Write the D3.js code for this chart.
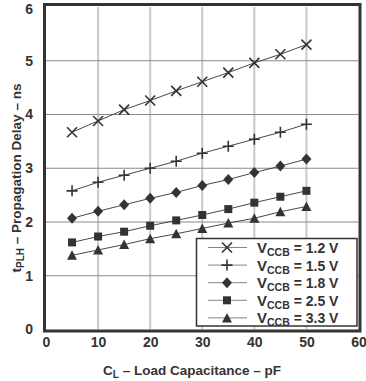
<!DOCTYPE html>
<html>
<head>
<meta charset="utf-8">
<script src="https://cdn.jsdelivr.net/npm/d3@7"></script>
<style>
  html, body { margin: 0; padding: 0; background: #fff; }
  svg { display: block; }
  text { font-family: "Liberation Sans", Arial, sans-serif; fill: #333; }
</style>
</head>
<body>
<svg id="chart" width="366" height="381"></svg>
<script>
const loadCap = [5, 10, 15, 20, 25, 30, 35, 40, 45, 50];
const v12 = [3.67, 3.88, 4.09, 4.26, 4.44, 4.61, 4.78, 4.96, 5.12, 5.30];
const v15 = [2.58, 2.74, 2.87, 3.00, 3.13, 3.28, 3.41, 3.54, 3.67, 3.82];
const v18 = [2.07, 2.20, 2.32, 2.44, 2.55, 2.68, 2.79, 2.92, 3.04, 3.17];
const v25 = [1.62, 1.73, 1.82, 1.93, 2.03, 2.13, 2.24, 2.36, 2.47, 2.58];
const v33 = [1.38, 1.48, 1.58, 1.69, 1.78, 1.88, 1.98, 2.07, 2.19, 2.29];
const seriesLabels = ["1.2 V", "1.5 V", "1.8 V", "2.5 V", "3.3 V"];
const seriesValues = [v12, v15, v18, v25, v33];
const markerTypes = ["x", "plus", "diamond", "square", "triangle"];
const xTicks = [0, 10, 20, 30, 40, 50, 60];
const yTicks = [0, 1, 2, 3, 4, 5, 6];

const svg = d3.select("#chart");
const x = d3.scaleLinear().domain([0, 60]).range([46, 358.5]);
const y = d3.scaleLinear().domain([0, 6]).range([329.5, 7]);
const ink = "#333";

// gridlines
svg.append("g").selectAll("line").data(xTicks.slice(1, -1)).join("line")
  .attr("x1", d => x(d)).attr("x2", d => x(d))
  .attr("y1", y(6)).attr("y2", y(0))
  .attr("stroke", "#c9c9c9").attr("stroke-width", 2);
svg.append("g").selectAll("line").data(yTicks.slice(1, -1)).join("line")
  .attr("x1", x(0)).attr("x2", x(60))
  .attr("y1", d => y(d)).attr("y2", d => y(d))
  .attr("stroke", "#8a8a8a").attr("stroke-width", 1);

// axes (labels only, via d3 axis)
const xAxis = svg.append("g").attr("transform", `translate(0,${y(0)})`)
  .call(d3.axisBottom(x).tickValues(xTicks).tickSize(0).tickPadding(8).tickFormat(d3.format("d")));
const yAxis = svg.append("g").attr("transform", `translate(${x(0)},0)`)
  .call(d3.axisLeft(y).tickValues(yTicks).tickSize(0).tickPadding(13).tickFormat(d3.format("d")));
[xAxis, yAxis].forEach(a => {
  a.select(".domain").remove();
  a.selectAll("text").attr("font-size", 14).attr("font-weight", "bold")
    .attr("font-family", "'Liberation Sans', Arial, sans-serif").attr("fill", ink);
});
yAxis.selectAll(".tick").filter(d => d === 6).select("text").attr("dy", "0.45em");

// frame
svg.append("rect").attr("x", 44.5).attr("y", 4.5).attr("width", 315.5).attr("height", 326.5)
  .attr("fill", "none").attr("stroke", ink).attr("stroke-width", 3);

// marker drawing
function drawMarker(g, type) {
  if (type === "x") {
    g.append("path").attr("d", "M-5,-5L5,5M-5,5L5,-5").attr("stroke", ink).attr("stroke-width", 1.6).attr("fill", "none");
  } else if (type === "plus") {
    g.append("path").attr("d", "M-5.5,0L5.5,0M0,-5.5L0,5.5").attr("stroke", ink).attr("stroke-width", 1.6).attr("fill", "none");
  } else if (type === "diamond") {
    g.append("path").attr("d", "M0,-5.5L5,0L0,5.5L-5,0Z").attr("fill", ink);
  } else if (type === "square") {
    g.append("rect").attr("x", -4).attr("y", -4).attr("width", 8).attr("height", 8).attr("fill", ink);
  } else {
    g.append("path").attr("d", "M0,-5L5,4.5L-5,4.5Z").attr("fill", ink);
  }
}

const line = d3.line().x((d, i) => x(loadCap[i])).y(d => y(d));
seriesValues.forEach((vals, si) => {
  svg.append("path").datum(vals).attr("d", line)
    .attr("fill", "none").attr("stroke", ink).attr("stroke-width", 0.9);
  const pts = svg.append("g").selectAll("g").data(vals).join("g")
    .attr("transform", (d, i) => `translate(${x(loadCap[i])},${y(d)})`);
  pts.each(function() { drawMarker(d3.select(this), markerTypes[si]); });
});

// legend
const lg = svg.append("g");
lg.append("rect").attr("x", 196.5).attr("y", 238.5).attr("width", 160.5).attr("height", 87.5)
  .attr("fill", "#fff").attr("stroke", ink).attr("stroke-width", 1.5);
seriesLabels.forEach((lab, i) => {
  const cy = 247.5 + i * 17.6;
  const row = lg.append("g");
  row.append("line").attr("x1", 208).attr("x2", 247).attr("y1", cy).attr("y2", cy)
    .attr("stroke", "#777").attr("stroke-width", 0.9);
  const m = row.append("g").attr("transform", `translate(227,${cy})`);
  drawMarker(m, markerTypes[i]);
  const t = row.append("text").attr("x", 257).attr("y", cy + 5.5)
    .attr("font-size", 14).attr("font-weight", "bold");
  t.append("tspan").attr("font-size", 15).text("V");
  t.append("tspan").attr("font-size", 10.5).attr("dy", 3).text("CCB");
  t.append("tspan").attr("dy", -3).text(" = " + lab);
});

// axis titles
const xt = svg.append("text").attr("x", 192).attr("y", 375).attr("text-anchor", "middle")
  .attr("font-size", 13.5).attr("font-weight", "bold");
xt.append("tspan").text("C");
xt.append("tspan").attr("font-size", 10).attr("dy", 3).text("L");
xt.append("tspan").attr("dy", -3).text(" \u2013 Load Capacitance \u2013 pF");

const yt = svg.append("text").attr("transform", "translate(21,178) rotate(-90)").attr("text-anchor", "middle")
  .attr("font-size", 13.5).attr("font-weight", "bold");
yt.append("tspan").text("t");
yt.append("tspan").attr("font-size", 10).attr("dy", 3).text("PLH");
yt.append("tspan").attr("dy", -3).text(" \u2013 Propagation Delay \u2013 ns");
</script>
</body>
</html>
